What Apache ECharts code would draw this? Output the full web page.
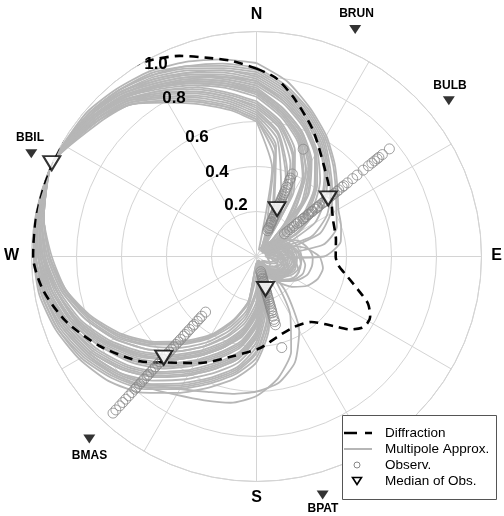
<!DOCTYPE html>
<html><head><meta charset="utf-8">
<script src="https://cdn.jsdelivr.net/npm/echarts@6/dist/echarts.min.js"></script>
<style>html,body{margin:0;padding:0;background:#fff}#c{width:504px;height:516px}</style>
</head><body><div id="c"></div>
<script>
// ---- data ----
const compassLabels = ['N', 'E', 'S', 'W'];
const radialTickLabels = ['0.2', '0.4', '0.6', '0.8', '1.0'];
const legendNames = ['Diffraction', 'Multipole Approx.', 'Observ.', 'Median of Obs.'];

const stationNames = ['BRUN', 'BULB', 'BBIL', 'BMAS', 'BPAT'];
const stationAz = [23.5, 51, 294.5, 222.5, 164.5];
const stationRadius = 1.1;
const medianAmp = [0.23, 0.41, 1.0, 0.61, 0.15];

const obsBRUN = [0.125,0.135,0.14,0.15,0.16,0.165,0.17,0.18,0.19,0.195,0.2,0.21,0.22,0.225,0.23,0.24,0.25,0.255,0.26,0.27,0.28,0.29,0.3,0.31,0.32,0.335,0.35,0.37,0.38,0.4,0.52];
const obsBULB = [0.16,0.175,0.19,0.205,0.215,0.23,0.24,0.25,0.265,0.27,0.28,0.295,0.3,0.315,0.32,0.335,0.345,0.35,0.36,0.375,0.38,0.39,0.405,0.41,0.42,0.435,0.445,0.46,0.47,0.49,0.5,0.52,0.55,0.575,0.61,0.64,0.66,0.675,0.69,0.7,0.72,0.76];
const obsBPAT = [0.07,0.08,0.09,0.1,0.105,0.115,0.12,0.13,0.14,0.15,0.155,0.165,0.17,0.18,0.19,0.2,0.21,0.22,0.23,0.24,0.25,0.26,0.275,0.29,0.3,0.315,0.42];
const obsBMAS = [0.335,0.36,0.375,0.39,0.41,0.42,0.44,0.455,0.47,0.48,0.5,0.515,0.53,0.545,0.56,0.575,0.59,0.6,0.62,0.635,0.65,0.665,0.68,0.695,0.71,0.72,0.74,0.755,0.77,0.79,0.8,0.82,0.84,0.86,0.88,0.9,0.925,0.944];

// Diffraction pattern: [azimuth (deg), amplitude]
const diffraction = [[0,0.835],[6,0.80],[13,0.727],[24,0.616],[37,0.50],[50,0.43],[64,0.378],[78,0.361],[90,0.352],[96,0.365],[103,0.419],[109,0.486],[113,0.539],[118,0.572],[121,0.575],[124,0.566],[128,0.526],[132,0.462],[140,0.38],[152,0.355],[166,0.37],[178,0.408],[193,0.454],[208,0.536],[221,0.624],[228,0.696],[240,0.80],[251,0.893],[261,0.96],[270,0.993],[283,1.0],[294.5,1.0],[306,1.015],[316,1.022],[324,1.018],[331,0.994],[339,0.955],[347,0.905],[353,0.875],[360,0.835]];

// Multipole approximation curves: amplitudes at the azimuths in mpAz
const mpAz = [0,10,20,30,40,50,60,70,80,90,100,110,120,130,140,150,160,170,180,190,200,210,220,230,240,250,260,270,280,294.5,310,320,330,340,350];
const mp01 = [0.6,0.4,0.03,0.05,0.08,0.1,0.12,0.13,0.14,0.14,0.14,0.13,0.12,0.1,0.08,0.06,0.03,0.06,0.22,0.32,0.4,0.48,0.57,0.66,0.75,0.83,0.89,0.94,0.97,1,0.92,0.88,0.79,0.72,0.66];
const mp02 = [0.62,0.5,0.22,0.05,0.08,0.11,0.14,0.16,0.17,0.18,0.18,0.17,0.15,0.12,0.09,0.05,0.02,0.16,0.33,0.43,0.5,0.58,0.67,0.75,0.82,0.88,0.93,0.96,0.98,1,0.93,0.89,0.81,0.74,0.68];
const mp03 = [0.65,0.56,0.4,0.12,0.04,0.07,0.11,0.15,0.18,0.19,0.2,0.2,0.19,0.17,0.14,0.11,0.07,0.03,0.03,0.2,0.3,0.4,0.49,0.59,0.69,0.78,0.86,0.91,0.96,1,0.94,0.9,0.83,0.77,0.71];
const mp04 = [0.68,0.6,0.48,0.3,0.04,0.05,0.09,0.12,0.14,0.16,0.16,0.15,0.14,0.12,0.09,0.06,0.03,0.1,0.28,0.38,0.45,0.53,0.62,0.7,0.78,0.86,0.91,0.95,0.98,1,0.95,0.91,0.85,0.79,0.73];
const mp05 = [0.71,0.63,0.54,0.41,0.2,0.04,0.08,0.13,0.17,0.2,0.22,0.22,0.2,0.17,0.13,0.09,0.05,0.02,0.14,0.26,0.35,0.44,0.53,0.62,0.72,0.8,0.87,0.92,0.96,1,0.95,0.92,0.86,0.81,0.76];
const mp06 = [0.72,0.64,0.55,0.42,0.22,0.03,0.06,0.1,0.13,0.15,0.15,0.14,0.12,0.09,0.06,0.03,0.08,0.22,0.38,0.48,0.55,0.63,0.72,0.8,0.86,0.91,0.95,0.98,0.99,1,0.96,0.92,0.87,0.82,0.77];
const mp07 = [0.74,0.66,0.58,0.47,0.33,0.1,0.05,0.07,0.1,0.12,0.13,0.13,0.12,0.1,0.08,0.05,0.03,0.07,0.24,0.34,0.42,0.5,0.59,0.68,0.77,0.85,0.9,0.95,0.98,1,0.96,0.93,0.88,0.83,0.78];
const mp08 = [0.75,0.67,0.59,0.48,0.35,0.14,0.03,0.06,0.09,0.11,0.12,0.11,0.09,0.07,0.04,0.03,0.14,0.3,0.45,0.53,0.6,0.68,0.77,0.84,0.9,0.94,0.97,0.99,1.0,1,0.96,0.93,0.88,0.84,0.79];
const mp09 = [0.76,0.69,0.61,0.52,0.41,0.27,0.04,0.07,0.1,0.12,0.14,0.14,0.13,0.11,0.08,0.05,0.03,0.12,0.3,0.4,0.47,0.55,0.64,0.72,0.8,0.87,0.92,0.96,0.98,1,0.97,0.94,0.89,0.85,0.8];
const mp10 = [0.77,0.7,0.62,0.53,0.42,0.29,0.06,0.08,0.12,0.15,0.17,0.17,0.16,0.14,0.12,0.09,0.06,0.03,0.03,0.2,0.31,0.41,0.5,0.6,0.7,0.79,0.86,0.92,0.96,1,0.97,0.94,0.9,0.86,0.81];
const mp11 = [0.79,0.72,0.64,0.56,0.47,0.37,0.2,0.04,0.06,0.09,0.11,0.12,0.11,0.09,0.07,0.04,0.02,0.18,0.35,0.45,0.52,0.6,0.69,0.77,0.84,0.89,0.94,0.97,0.99,1,0.97,0.95,0.91,0.87,0.83];
const mp12 = [0.8,0.73,0.65,0.57,0.48,0.38,0.22,0.05,0.09,0.14,0.18,0.2,0.19,0.16,0.12,0.08,0.05,0.02,0.16,0.28,0.37,0.46,0.55,0.64,0.73,0.81,0.88,0.93,0.97,1,0.97,0.95,0.91,0.87,0.84];
const mp13 = [0.82,0.75,0.67,0.59,0.5,0.43,0.36,0.26,0.04,0.06,0.09,0.1,0.09,0.07,0.05,0.02,0.09,0.24,0.4,0.5,0.57,0.65,0.74,0.81,0.87,0.92,0.96,0.98,0.99,1,0.98,0.96,0.93,0.89,0.85];
const mp14 = [0.83,0.76,0.68,0.6,0.51,0.44,0.38,0.3,0.1,0.04,0.09,0.13,0.15,0.14,0.11,0.07,0.03,0.09,0.26,0.36,0.43,0.51,0.6,0.68,0.76,0.84,0.9,0.94,0.97,1,0.98,0.96,0.93,0.9,0.86];
const mp15 = [0.86,0.79,0.7,0.62,0.54,0.47,0.42,0.4,0.38,0.3,0.05,0.06,0.07,0.07,0.05,0.04,0.16,0.32,0.47,0.55,0.62,0.7,0.79,0.86,0.91,0.95,0.98,0.99,1.0,1,0.99,0.97,0.95,0.92,0.89];
const mp16 = [0.67,0.59,0.47,0.28,0.05,0.1,0.15,0.2,0.23,0.25,0.25,0.24,0.21,0.17,0.12,0.07,0.02,0.14,0.31,0.41,0.48,0.56,0.65,0.73,0.8,0.87,0.92,0.96,0.98,1,0.95,0.91,0.84,0.78,0.72];
const mp17 = [0.64,0.55,0.38,0.1,0.03,0.05,0.08,0.1,0.11,0.12,0.12,0.11,0.1,0.08,0.05,0.02,0.07,0.2,0.36,0.46,0.53,0.61,0.7,0.78,0.85,0.9,0.95,0.97,0.99,1,0.94,0.9,0.82,0.76,0.7];
const mp18 = [0.73,0.65,0.56,0.44,0.25,0.04,0.06,0.08,0.1,0.1,0.09,0.07,0.04,0.03,0.2,0.38,0.5,0.57,0.6,0.62,0.64,0.68,0.74,0.8,0.86,0.91,0.95,0.97,0.99,1,0.96,0.92,0.87,0.82,0.77];
const mp19 = [0.78,0.7,0.62,0.52,0.4,0.25,0.06,0.14,0.22,0.28,0.3,0.29,0.26,0.21,0.15,0.09,0.04,0.05,0.2,0.3,0.38,0.46,0.55,0.64,0.73,0.81,0.88,0.93,0.97,1,0.97,0.94,0.89,0.85,0.81];
const mp20 = [0.61,0.48,0.2,0.04,0.06,0.09,0.12,0.14,0.15,0.16,0.16,0.15,0.14,0.12,0.09,0.06,0.03,0.11,0.29,0.39,0.46,0.54,0.63,0.71,0.79,0.86,0.92,0.95,0.98,1,0.93,0.88,0.8,0.73,0.67];
const mp21 = [0.73,0.65,0.57,0.46,0.31,0.08,0.07,0.11,0.15,0.17,0.18,0.18,0.16,0.13,0.1,0.06,0.02,0.17,0.34,0.44,0.51,0.59,0.68,0.76,0.83,0.89,0.93,0.97,0.99,1,0.96,0.93,0.87,0.83,0.78];
const mp22 = [0.69,0.61,0.5,0.33,0.06,0.06,0.09,0.11,0.13,0.14,0.14,0.14,0.13,0.11,0.08,0.05,0.03,0.06,0.23,0.33,0.41,0.49,0.58,0.67,0.76,0.84,0.9,0.94,0.97,1,0.95,0.91,0.85,0.8,0.74];
const mp23 = [0.61,0.45,0.12,0.05,0.08,0.11,0.13,0.15,0.16,0.17,0.17,0.16,0.15,0.12,0.09,0.06,0.03,0.08,0.25,0.35,0.43,0.51,0.6,0.68,0.77,0.85,0.9,0.95,0.98,1,0.93,0.88,0.8,0.73,0.67];
const mp24 = [0.66,0.58,0.44,0.2,0.03,0.06,0.1,0.13,0.15,0.16,0.17,0.16,0.14,0.11,0.08,0.04,0.05,0.19,0.36,0.46,0.53,0.61,0.7,0.78,0.85,0.9,0.94,0.97,0.99,1,0.94,0.9,0.84,0.78,0.72];
const mp25 = [0.73,0.65,0.56,0.44,0.26,0.05,0.07,0.11,0.14,0.16,0.17,0.17,0.16,0.14,0.11,0.08,0.05,0.03,0.08,0.24,0.33,0.42,0.51,0.61,0.71,0.79,0.87,0.92,0.96,1,0.96,0.92,0.87,0.82,0.77];
const mp26 = [0.78,0.71,0.63,0.54,0.44,0.32,0.12,0.04,0.07,0.1,0.12,0.13,0.12,0.1,0.07,0.04,0.11,0.27,0.42,0.51,0.58,0.66,0.75,0.82,0.88,0.93,0.96,0.98,0.99,1,0.97,0.95,0.9,0.86,0.82];
const mp27 = [0.84,0.77,0.69,0.61,0.53,0.46,0.41,0.38,0.3,0.08,0.07,0.1,0.11,0.1,0.08,0.05,0.03,0.08,0.25,0.35,0.43,0.51,0.6,0.69,0.77,0.85,0.9,0.95,0.98,1,0.98,0.96,0.94,0.9,0.87];
const mp28 = [0.63,0.53,0.32,0.06,0.08,0.12,0.15,0.18,0.19,0.2,0.2,0.19,0.17,0.14,0.1,0.05,0.12,0.28,0.43,0.52,0.59,0.67,0.76,0.83,0.89,0.94,0.97,0.99,1.0,1,0.94,0.89,0.82,0.75,0.69];
const mp29 = [0.81,0.74,0.66,0.58,0.49,0.4,0.3,0.12,0.05,0.09,0.13,0.15,0.16,0.15,0.13,0.1,0.07,0.04,0.04,0.21,0.31,0.41,0.5,0.6,0.7,0.79,0.87,0.92,0.96,1,0.98,0.95,0.92,0.88,0.84];
const mp30 = [0.74,0.67,0.59,0.49,0.36,0.16,0.04,0.07,0.09,0.1,0.1,0.09,0.06,0.03,0.12,0.3,0.45,0.55,0.62,0.66,0.68,0.71,0.76,0.82,0.87,0.92,0.96,0.98,0.99,1,0.96,0.93,0.88,0.84,0.79];
const multipoleCurves = [mp01,mp02,mp03,mp04,mp05,mp06,mp07,mp08,mp09,mp10,mp11,mp12,mp13,mp14,mp15,mp16,mp17,mp18,mp19,mp20,mp21,mp22,mp23,mp24,mp25,mp26,mp27,mp28,mp29,mp30];

// ---- chart ----
const FONT = '"Liberation Sans", Arial, Helvetica, sans-serif';
const GRID = '#d4d4d4';
const GRAY = '#b6b6b6';
const OBS = '#888888';
const chart = echarts.init(document.getElementById('c'), null, {renderer: 'canvas'});
const downTri = 'path://M0,0L10,0L5,8.6Z';

const series = [];
multipoleCurves.forEach(c => {
  const d = mpAz.map((a, i) => [c[i], a]);
  d.push([c[0], 360]);
  series.push({
    name: 'Multipole Approx.', type: 'line', coordinateSystem: 'polar', data: d,
    symbol: 'none', smooth: 0.2, clip: false, z: 2, silent: true,
    lineStyle: {color: GRAY, width: 1.8}
  });
});
series.push({
  name: 'Diffraction', type: 'line', coordinateSystem: 'polar',
  data: diffraction.map(p => [p[1], p[0]]),
  symbol: 'none', smooth: 0.25, clip: false, z: 4, silent: true,
  lineStyle: {color: '#000', width: 2.6, type: [9, 6]}
});
const obsSets = [obsBRUN, obsBULB, obsBPAT, obsBMAS];
const obsAz = [stationAz[0], stationAz[1], stationAz[4], stationAz[3]];
const obsData = [];
obsSets.forEach((s, k) => s.forEach(v => obsData.push([v, obsAz[k]])));
series.push({
  name: 'Observ.', type: 'scatter', coordinateSystem: 'polar', data: obsData,
  symbol: 'circle', symbolSize: 10, clip: false, z: 5, silent: true,
  itemStyle: {color: 'rgba(255,255,255,0)', borderColor: OBS, borderWidth: 1}
});
series.push({
  name: 'Median of Obs.', type: 'scatter', coordinateSystem: 'polar',
  data: medianAmp.map((v, i) => [v, stationAz[i]]),
  symbol: downTri, symbolSize: [17, 14], clip: false, z: 6, silent: true,
  itemStyle: {color: '#fff', borderColor: '#000', borderWidth: 2}
});
series.push({
  name: 'stations', type: 'scatter', coordinateSystem: 'polar', silent: true,
  data: stationNames.map((n, i) => ({name: n, value: [stationRadius, stationAz[i]]})),
  symbol: downTri, symbolSize: [12, 9], clip: false, z: 6,
  itemStyle: {color: '#000'}
});

// text labels and legend box
const compassPos = [[256.5, 15], [496.5, 256], [256.5, 498], [11.5, 255.5]];
const tickPos = [[236, 205], [217, 172], [197, 137], [174, 98], [156, 64]];
const stationLabelPos = [[356.5, 14], [450, 86], [30, 138], [89.5, 455.5], [323, 509]];
const graphics = [];
compassLabels.forEach((t, i) => graphics.push({
  type: 'text', x: compassPos[i][0], y: compassPos[i][1], z: 3,
  style: {text: t, align: 'center', verticalAlign: 'middle', font: 'bold 16px ' + FONT, fill: '#000'}
}));
radialTickLabels.forEach((t, i) => graphics.push({
  type: 'text', x: tickPos[i][0], y: tickPos[i][1], z: 3,
  style: {text: t, align: 'center', verticalAlign: 'middle', font: 'bold 17px ' + FONT, fill: '#000'}
}));
stationNames.forEach((t, i) => graphics.push({
  type: 'text', x: stationLabelPos[i][0], y: stationLabelPos[i][1], z: 3,
  style: {text: t, align: 'center', verticalAlign: 'middle', font: 'bold 12px ' + FONT, fill: '#000'}
}));
// legend
const LX = 342, LY = 415, LW = 154, LH = 84, ROW = 16, ROW0 = 18;
graphics.push({type: 'rect', z: 20, shape: {x: LX + 0.5, y: LY + 0.5, width: LW, height: LH},
  style: {fill: '#fff', stroke: '#555', lineWidth: 1}});
graphics.push({type: 'line', z: 21, shape: {x1: LX + 2, y1: LY + ROW0, x2: LX + 30, y2: LY + ROW0},
  style: {stroke: '#000', lineWidth: 2.6, lineDash: [13, 8]}});
graphics.push({type: 'line', z: 21, shape: {x1: LX + 2, y1: LY + ROW0 + ROW, x2: LX + 30, y2: LY + ROW0 + ROW},
  style: {stroke: GRAY, lineWidth: 2}});
graphics.push({type: 'circle', z: 21, shape: {cx: LX + 15, cy: LY + ROW0 + 2 * ROW, r: 3},
  style: {fill: 'none', stroke: OBS, lineWidth: 1}});
graphics.push({type: 'polygon', z: 21, shape: {points: [[LX + 10.5, LY + ROW0 + 3 * ROW - 3.5], [LX + 19.5, LY + ROW0 + 3 * ROW - 3.5], [LX + 15, LY + ROW0 + 3 * ROW + 3.5]]},
  style: {fill: '#fff', stroke: '#000', lineWidth: 1.6}});
legendNames.forEach((t, i) => graphics.push({
  type: 'text', z: 21, x: LX + 43, y: LY + ROW0 + i * ROW,
  style: {text: t, align: 'left', verticalAlign: 'middle', font: '13.5px ' + FONT, fill: '#000'}
}));

chart.setOption({
  animation: false,
  backgroundColor: '#fff',
  polar: {center: [256.5, 256.5], radius: 225},
  angleAxis: {
    type: 'value', min: 0, max: 360, interval: 30, startAngle: 90, clockwise: true,
    axisLine: {show: true, lineStyle: {color: GRID, width: 1}},
    axisTick: {show: false}, axisLabel: {show: false},
    splitLine: {show: true, lineStyle: {color: GRID, width: 1}}
  },
  radiusAxis: {
    type: 'value', min: 0, max: 1, interval: 0.2,
    axisLine: {show: false}, axisTick: {show: false}, axisLabel: {show: false},
    splitLine: {show: true, lineStyle: {color: GRID, width: 1}}
  },
  graphic: graphics,
  series: series
});
</script>
</body></html>
